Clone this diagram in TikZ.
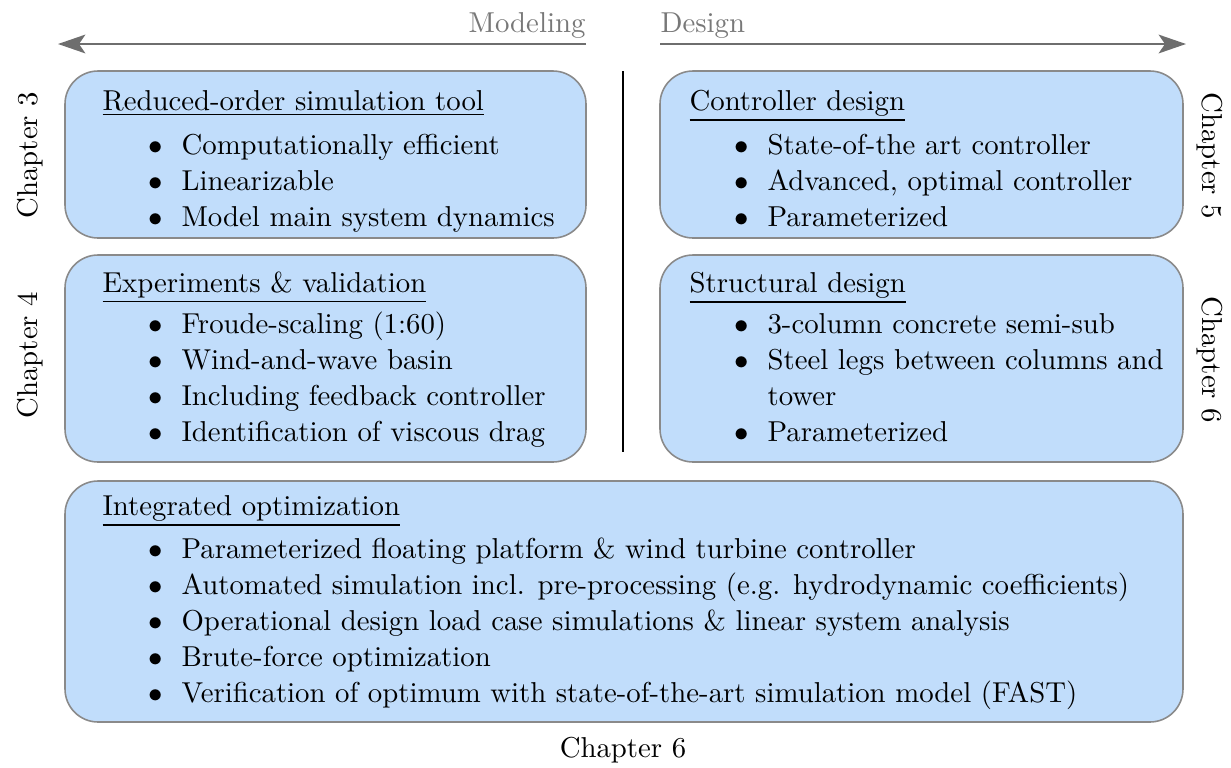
\documentclass[tikz,border=0pt]{standalone}
\usetikzlibrary{arrows.meta,fit}
\definecolor{boxfill}{RGB}{193,221,251}
\definecolor{boxdraw}{RGB}{138,138,138}
\definecolor{arrowgray}{RGB}{110,110,110}
\definecolor{labelgray}{RGB}{120,120,120}
\newcommand\bitem[4]{%
  \node[bul] (#1b) at (#2-25,#3) {$\bullet$};
  \node[itm] (#1) at (#2,#3) {#4};}
\begin{document}
\begin{tikzpicture}[x=0.3474pt,y=-0.3474pt,
  box/.style={draw=boxdraw,fill=boxfill,line width=0.55pt,rounded corners=11.5pt,inner sep=0pt},
  itm/.style={anchor=base west,inner sep=0pt},
  bul/.style={anchor=base,inner sep=0pt},
  ttl/.style={anchor=base west,inner sep=0pt},
  chap/.style={inner sep=0pt},
  timeline/.style={draw=arrowgray,line width=0.75pt,-{Stealth[length=9.5pt,width=6.5pt,inset=2.2pt]}}]
\useasboundingbox (0,0) rectangle (1231,767);

% top arrows
\coordinate (mA) at (586,44);
\coordinate (mB) at (58,44);
\coordinate (dA) at (660,44);
\coordinate (dB) at (1186,44);
\draw[timeline] (mA) -- (mB);
\draw[timeline] (dA) -- (dB);
\node[anchor=base east,inner sep=0pt,text=labelgray] (modeling) at (586,32) {Modeling};
\node[anchor=base west,inner sep=0pt,text=labelgray] (design) at (660,32) {Design};

% divider
\coordinate (vtop) at (623,71);
\coordinate (vbot) at (623,452);
\draw[line width=0.7pt] (vtop) -- (vbot);

% boxes
\node[box,fit={(65,71) (586,238)}] (box1) {};
\node[box,fit={(660,71) (1183,238)}] (box2) {};
\node[box,fit={(65,255) (586,462)}] (box3) {};
\node[box,fit={(660,255) (1183,462)}] (box4) {};
\node[box,fit={(65,481) (1183,722)}] (box5) {};

% box 1
\node[ttl] (t1) at (102,110) {\underline{Reduced-order simulation tool}};
\bitem{a1}{181}{154}{Computationally efficient}
\bitem{a2}{181}{190}{Linearizable}
\bitem{a3}{181}{226}{Model main system dynamics}

% box 2
\node[ttl] (t2) at (689,110) {\underline{Controller design}};
\bitem{c1}{767}{154}{State-of-the art controller}
\bitem{c2}{767}{190}{Advanced, optimal controller}
\bitem{c3}{767}{226}{Parameterized}

% box 3
\node[ttl] (t3) at (102,292) {\underline{Experiments \& validation}};
\bitem{e1}{181}{333}{Froude-scaling (1:60)}
\bitem{e2}{181}{369}{Wind-and-wave basin}
\bitem{e3}{181}{405}{Including feedback controller}
\bitem{e4}{181}{441}{Identification of viscous drag}

% box 4
\node[ttl] (t4) at (689,292) {\underline{Structural design}};
\bitem{s1}{767}{333}{3-column concrete semi-sub}
\bitem{s2}{767}{369}{Steel legs between columns and}
\node[itm] (s2b2) at (767,405) {tower};
\bitem{s3}{767}{441}{Parameterized}

% box 5
\node[ttl] (t5) at (102,515) {\underline{Integrated optimization}};
\bitem{o1}{181}{558}{Parameterized floating platform \& wind turbine controller}
\bitem{o2}{181}{594}{Automated simulation incl. pre-processing (e.g. hydrodynamic coefficients)}
\bitem{o3}{181}{630}{Operational design load case simulations \& linear system analysis}
\bitem{o4}{181}{666}{Brute-force optimization}
\bitem{o5}{181}{702}{Verification of optimum with state-of-the-art simulation model (FAST)}

% chapter labels
\node[chap,rotate=90] (ch3) at (30,155) {Chapter 3};
\node[chap,rotate=90] (ch4) at (30,355) {Chapter 4};
\node[chap,rotate=-90] (ch5) at (1210,156) {Chapter 5};
\node[chap,rotate=-90] (ch6r) at (1210,360) {Chapter 6};
\node[anchor=base,inner sep=0pt] (ch6b) at (623,757) {Chapter 6};
\end{tikzpicture}
\end{document}
